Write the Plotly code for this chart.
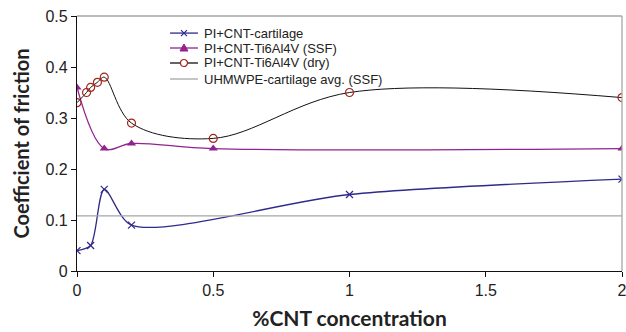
import plotly.graph_objects as go

cart_x = [0, 0.05, 0.1, 0.2, 1, 2]
cart_y = [0.04, 0.05, 0.16, 0.09, 0.15, 0.18]
ssf_x = [0, 0.1, 0.2, 0.5, 2]
ssf_y = [0.36, 0.24, 0.25, 0.24, 0.24]
dry_x = [0, 0.035, 0.05, 0.075, 0.1, 0.2, 0.5, 1, 2]
dry_y = [0.33, 0.35, 0.36, 0.37, 0.38, 0.29, 0.26, 0.35, 0.34]
uhm_x = [0, 2]
uhm_y = [0.108, 0.108]

names = ["PI+CNT-cartilage", "PI+CNT-Ti6Al4V (SSF)", "PI+CNT-Ti6Al4V (dry)", "UHMWPE-cartilage avg. (SSF)"]
C_CART = "#2f2a8c"
C_SSF = "#93228f"
C_DRY = "#111111"
C_DRYM = "#a3261c"
C_UHM = "#a6a6a6"

fig = go.Figure()
fig.add_trace(go.Scatter(x=cart_x, y=cart_y, name=names[0], mode="lines+markers",
                         line=dict(color=C_CART, width=1.3, shape="spline", smoothing=0.8),
                         marker=dict(symbol="x-thin", size=7, color=C_CART, line=dict(color=C_CART, width=1.2))))
fig.add_trace(go.Scatter(x=ssf_x, y=ssf_y, name=names[1], mode="lines+markers",
                         line=dict(color=C_SSF, width=1.3, shape="spline", smoothing=1),
                         marker=dict(symbol="triangle-up", size=8, color=C_SSF)))
fig.add_trace(go.Scatter(x=dry_x, y=dry_y, name=names[2], mode="lines+markers",
                         line=dict(color=C_DRY, width=1, shape="spline", smoothing=1),
                         marker=dict(symbol="circle-open", size=8, color=C_DRYM, line=dict(color=C_DRYM, width=1.2))))
fig.add_trace(go.Scatter(x=uhm_x, y=uhm_y, name=names[3], mode="lines",
                         line=dict(color=C_UHM, width=1.3)))

# top/right gray frame
fig.add_shape(type="line", xref="paper", yref="paper", x0=0, x1=1, y0=1, y1=1,
              line=dict(color=C_UHM, width=1.3))
fig.add_shape(type="line", xref="paper", yref="paper", x0=1, x1=1, y0=0, y1=1,
              line=dict(color=C_UHM, width=1.3))

# manual legend
leg_y = [0.933, 0.8745, 0.8157, 0.7529]
lx0, lx1, lxm, ltx = 0.1706, 0.222, 0.1963, 0.2294
line_cols = [C_CART, C_SSF, C_DRY, C_UHM]
for i, (nm, yy) in enumerate(zip(names, leg_y)):
    fig.add_shape(type="line", xref="paper", yref="paper", x0=lx0, x1=lx1, y0=yy, y1=yy,
                  line=dict(color=line_cols[i], width=1.3))
    fig.add_annotation(xref="paper", yref="paper", x=ltx, y=yy, text=nm, showarrow=False,
                       xanchor="left", yanchor="middle", font=dict(size=13, color="#222222"))
# legend marker glyphs
fig.add_shape(type="path", xref="paper", yref="paper", xsizemode="pixel", ysizemode="pixel",
              xanchor=lxm, yanchor=leg_y[0], path="M-3,-3 L3,3 M-3,3 L3,-3",
              line=dict(color=C_CART, width=1.2))
fig.add_shape(type="path", xref="paper", yref="paper", xsizemode="pixel", ysizemode="pixel",
              xanchor=lxm, yanchor=leg_y[1], path="M-4,-3 L4,-3 L0,4 Z",
              fillcolor=C_SSF, line=dict(color=C_SSF, width=1))
fig.add_shape(type="circle", xref="paper", yref="paper", xsizemode="pixel", ysizemode="pixel",
              xanchor=lxm, yanchor=leg_y[2], x0=-3.5, x1=3.5, y0=-3.5, y1=3.5,
              fillcolor="white", line=dict(color=C_DRYM, width=1.2))

fig.update_layout(
    width=626, height=332,
    margin=dict(l=77, r=4, t=16, b=61, autoexpand=False),
    plot_bgcolor="white", paper_bgcolor="white",
    font=dict(family="Liberation Sans, Arial", color="#222222", size=13),
    showlegend=False,
    xaxis=dict(range=[0, 2], tickvals=[0, 0.5, 1, 1.5, 2], ticktext=["0", "0.5", "1", "1.5", "2"],
               showgrid=False, zeroline=False, showline=True, linecolor="#111111", linewidth=1.3,
               ticks="outside", ticklen=5, tickcolor="#111111", ticklabeloverflow="allow",
               automargin=False, tickfont=dict(size=16),
               title=dict(text="<b>%CNT concentration</b>", font=dict(family="Lato, Open Sans", size=21), standoff=12)),
    yaxis=dict(range=[0, 0.5], tickvals=[0, 0.1, 0.2, 0.3, 0.4, 0.5],
               ticktext=["0", "0.1", "0.2", "0.3", "0.4", "0.5"],
               showgrid=False, zeroline=False, showline=True, linecolor="#111111", linewidth=1.3,
               ticks="outside", ticklen=5, tickcolor="#111111", automargin=False,
               tickfont=dict(size=16),
               title=dict(text="<b>Coefficient of friction</b>", font=dict(family="Lato, Open Sans", size=20), standoff=10)),
)

fig.write_html("out.html")
